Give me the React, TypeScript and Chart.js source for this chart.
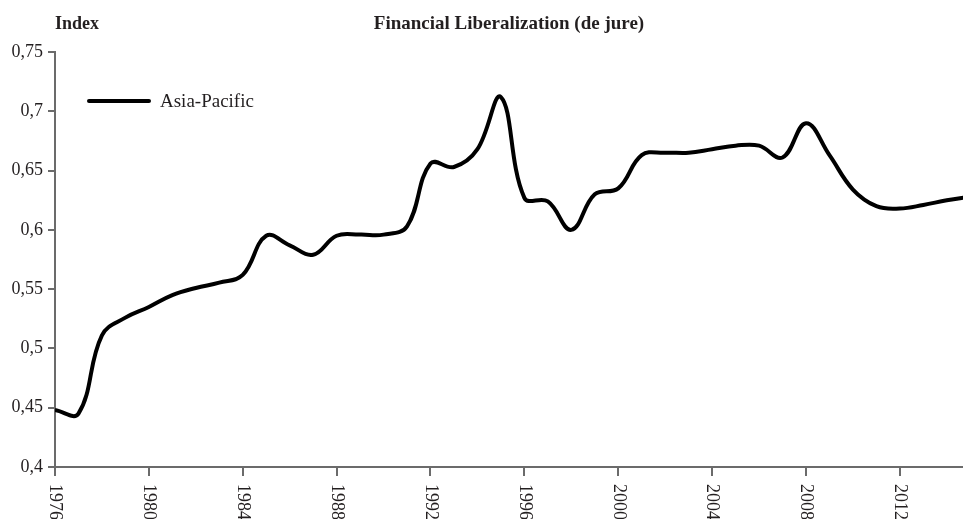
import React, { useEffect, useRef } from 'react';
import { Chart, registerables } from 'chart.js';

Chart.register(...registerables);

const years = [
  1976, 1977, 1978, 1979, 1980, 1981, 1982, 1983, 1984, 1985,
  1986, 1987, 1988, 1989, 1990, 1991, 1992, 1993, 1994, 1995,
  1996, 1997, 1998, 1999, 2000, 2001, 2002, 2003, 2004, 2005,
  2006, 2007, 2008, 2009, 2010, 2011, 2012, 2013, 2014, 2015,
];
const asiaPacific = [
  0.448, 0.445, 0.511, 0.526, 0.535, 0.545, 0.551, 0.5555, 0.562, 0.595,
  0.587, 0.579, 0.595, 0.596, 0.596, 0.603, 0.656, 0.653, 0.668, 0.712,
  0.627, 0.624, 0.6, 0.63, 0.635, 0.663, 0.665, 0.665, 0.668, 0.671,
  0.671, 0.661, 0.69, 0.663, 0.634, 0.62, 0.618, 0.621, 0.625, 0.628,
];
const xTickLabels = ['1976', '1980', '1984', '1988', '1992', '1996', '2000', '2004', '2008', '2012'];
const yTickValues = [0.4, 0.45, 0.5, 0.55, 0.6, 0.65, 0.7, 0.75];
const yTickLabels = ['0,4', '0,45', '0,5', '0,55', '0,6', '0,65', '0,7', '0,75'];
const chartTitle = 'Financial Liberalization (de jure)';
const yAxisTitle = 'Index';
const seriesName = 'Asia-Pacific';

const FONT = '"Liberation Serif", "Times New Roman", serif';
const TEXT = '#231f20';
const AXIS = '#6b6b6b';

const overlayPlugin = {
  id: 'overlay',
  afterDraw(chart: any) {
    const { ctx, chartArea } = chart;
    const xScale = chart.scales.x;
    ctx.save();
    // title
    ctx.fillStyle = TEXT;
    ctx.font = `bold 19px ${FONT}`;
    ctx.textAlign = 'center';
    ctx.textBaseline = 'alphabetic';
    ctx.fillText(chartTitle, (chartArea.left + chartArea.right) / 2, 29);
    // y axis title
    ctx.font = `bold 18px ${FONT}`;
    ctx.textAlign = 'left';
    ctx.fillText(yAxisTitle, chartArea.left, 29);
    // legend
    ctx.strokeStyle = '#000';
    ctx.lineWidth = 4;
    ctx.lineCap = 'round';
    ctx.beginPath();
    ctx.moveTo(89, 101);
    ctx.lineTo(149, 101);
    ctx.stroke();
    ctx.font = `19px ${FONT}`;
    ctx.textBaseline = 'middle';
    ctx.fillText(seriesName, 160, 102);
    // x tick labels, rotated clockwise
    ctx.font = `18px ${FONT}`;
    xTickLabels.forEach((lab) => {
      const x = xScale.getPixelForValue(Number(lab));
      ctx.save();
      ctx.translate(x, chartArea.bottom + 17);
      ctx.rotate(Math.PI / 2);
      ctx.textAlign = 'left';
      ctx.textBaseline = 'middle';
      ctx.fillText(lab, 0, 0);
      ctx.restore();
    });
    ctx.restore();
  },
};

export default function App() {
  const ref = useRef<HTMLCanvasElement>(null);
  useEffect(() => {
    if (!ref.current) return;
    const chart = new Chart(ref.current, {
      type: 'line',
      data: {
        datasets: [
          {
            label: seriesName,
            data: years.map((y, i) => ({ x: y, y: asiaPacific[i] })),
            borderColor: '#000',
            borderWidth: 4,
            pointRadius: 0,
            tension: 0.4,
            fill: false,
          },
        ],
      },
      options: {
        animation: false,
        responsive: false,
        layout: { padding: { top: 52, left: 0, right: 0, bottom: 0 } },
        plugins: {
          legend: { display: false },
          title: { display: false },
          tooltip: { enabled: false },
        },
        scales: {
          x: {
            type: 'linear',
            min: 1976,
            max: 2014.69,
            afterBuildTicks: (s: any) => {
              s.ticks = xTickLabels.map((l) => ({ value: Number(l) }));
            },
            afterFit: (s: any) => {
              s.height = 52;
            },
            ticks: { display: false },
            grid: {
              drawOnChartArea: false,
              drawTicks: true,
              tickLength: 9,
              color: AXIS,
              lineWidth: 2,
            },
            border: { display: true, color: AXIS, width: 2 },
          },
          y: {
            type: 'linear',
            min: 0.4,
            max: 0.75,
            afterBuildTicks: (s: any) => {
              s.ticks = yTickValues.map((v) => ({ value: v }));
            },
            afterFit: (s: any) => {
              s.width = 55;
            },
            ticks: {
              padding: 5,
              color: TEXT,
              font: { family: FONT, size: 18 },
              callback: (_v: any, i: number) => yTickLabels[i],
            },
            grid: {
              drawOnChartArea: false,
              drawTicks: true,
              tickLength: 7,
              color: AXIS,
              lineWidth: 2,
            },
            border: { display: true, color: AXIS, width: 2 },
          },
        },
      },
      plugins: [overlayPlugin],
    });
    return () => chart.destroy();
  }, []);
  return (
    <div style={{ position: 'fixed', left: 0, top: 0, width: 963, height: 519, background: '#fff' }}>
      <canvas ref={ref} width={963} height={519} style={{ display: 'block' }} />
    </div>
  );
}
